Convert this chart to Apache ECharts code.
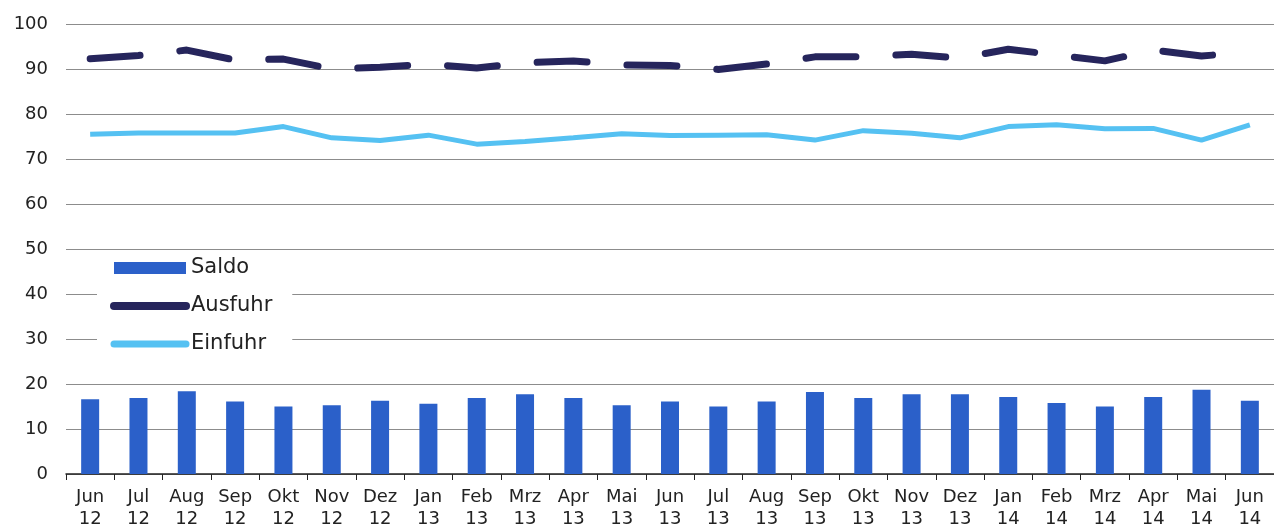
<!DOCTYPE html>
<html>
<head>
<meta charset="utf-8">
<script src="https://cdn.jsdelivr.net/npm/echarts@6/dist/echarts.min.js"></script>
<style>
  html, body { margin: 0; padding: 0; background: #fff; }
  #chart { width: 1274px; height: 530px; }
</style>
</head>
<body>
<div id="chart"></div>
<script>
// Monate (Jun 12 - Jun 14)
var months = ['Jun\n12', 'Jul\n12', 'Aug\n12', 'Sep\n12', 'Okt\n12', 'Nov\n12', 'Dez\n12',
  'Jan\n13', 'Feb\n13', 'Mrz\n13', 'Apr\n13', 'Mai\n13', 'Jun\n13', 'Jul\n13', 'Aug\n13',
  'Sep\n13', 'Okt\n13', 'Nov\n13', 'Dez\n13', 'Jan\n14', 'Feb\n14', 'Mrz\n14', 'Apr\n14',
  'Mai\n14', 'Jun\n14']

var saldo = [16.6, 16.9, 18.4, 16.1, 15.0, 15.3, 16.3, 15.6, 16.9, 17.7, 16.9, 15.3,
  16.1, 15.0, 16.1, 18.2, 16.9, 17.7, 17.7, 17.1, 15.8, 15.0, 17.1, 18.7, 16.3]

var ausfuhr = [92.3, 93.0, 94.2, 92.0, 92.2, 90.0, 90.4, 91.1, 90.2, 91.4, 91.8, 90.9,
  90.8, 89.9, 91.1, 92.7, 92.7, 93.3, 92.4, 94.4, 93.1, 91.8, 94.2, 92.9, 93.7]

var einfuhr = [75.5, 75.8, 75.8, 75.8, 77.2, 74.7, 74.1, 75.3, 73.3, 73.9, 74.7, 75.6,
  75.2, 75.3, 75.4, 74.2, 76.3, 75.7, 74.7, 77.2, 77.6, 76.7, 76.8, 74.2, 77.6]

var yTicks = { min: 0, max: 100, interval: 10 }

var font = 'DejaVu Sans'
var myChart = echarts.init(document.getElementById('chart'))

var option = {
  animation: false,
  textStyle: { fontFamily: font },
  grid: { left: 66, right: 0, top: 24, bottom: 56 },
  legend: {
    orient: 'vertical',
    left: 97,
    top: 250,
    padding: [6, 20, 8, 13],
    backgroundColor: '#fff',
    itemWidth: 72,
    itemHeight: 12,
    itemGap: 14,
    textStyle: { fontSize: 21, color: '#222', lineHeight: 24, fontFamily: font },
    data: [
      { name: 'Saldo', icon: 'rect' },
      { name: 'Ausfuhr', itemStyle: { opacity: 0 }, lineStyle: { type: 'solid', width: 8, cap: 'round' } },
      { name: 'Einfuhr', itemStyle: { opacity: 0 }, lineStyle: { type: 'solid', width: 7, cap: 'round' } }
    ]
  },
  xAxis: {
    type: 'category',
    data: months,
    axisLine: { lineStyle: { color: '#222', width: 1.5 } },
    axisTick: { show: true, length: 6, lineStyle: { color: '#222' } },
    axisLabel: { color: '#222', fontSize: 18, lineHeight: 22, margin: 12, interval: 0 }
  },
  yAxis: {
    type: 'value',
    min: yTicks.min,
    max: yTicks.max,
    interval: yTicks.interval,
    axisLine: { show: false },
    axisTick: { show: false },
    axisLabel: { color: '#222', fontSize: 18, margin: 18 },
    splitLine: { lineStyle: { color: '#8c8c8c', width: 1.2 } }
  },
  series: [
    {
      name: 'Saldo',
      type: 'bar',
      data: saldo,
      barWidth: 18,
      itemStyle: { color: '#2b60c9' }
    },
    {
      name: 'Ausfuhr',
      type: 'line',
      data: ausfuhr,
      symbol: 'none',
      lineStyle: { color: '#26255c', width: 7, type: [50, 40], cap: 'round' },
      itemStyle: { color: '#26255c' }
    },
    {
      name: 'Einfuhr',
      type: 'line',
      data: einfuhr,
      symbol: 'none',
      lineStyle: { color: '#55c1f2', width: 5 },
      itemStyle: { color: '#55c1f2' }
    }
  ]
}

myChart.setOption(option)
</script>
</body>
</html>
